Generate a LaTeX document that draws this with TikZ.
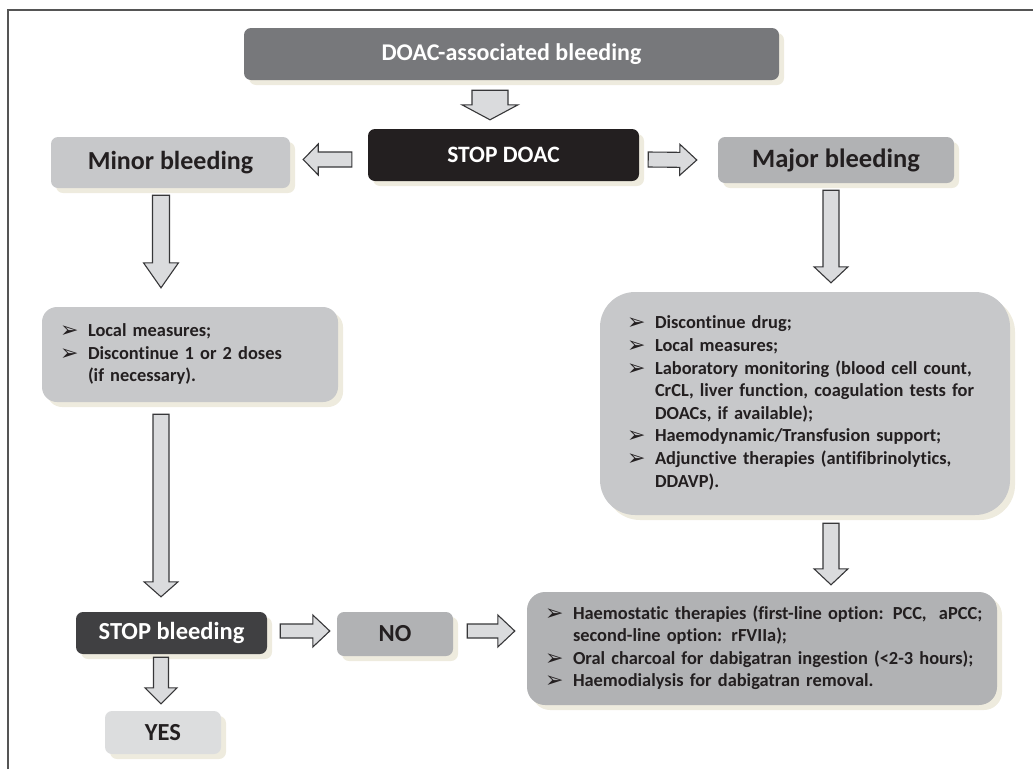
\documentclass[tikz,border=0pt]{standalone}
\usepackage{fontspec}
\setmainfont{Carlito}[Ligatures={NoCommon}]
\newfontfamily\dingfont{DejaVu Sans}
\usetikzlibrary{calc}
\usetikzlibrary{shadows}

\definecolor{titlegray}{RGB}{119,120,123}
\definecolor{stopblack}{RGB}{35,31,32}
\definecolor{stopdark}{RGB}{64,64,66}
\definecolor{lightbox}{RGB}{199,200,202}
\definecolor{midbox}{RGB}{177,178,180}
\definecolor{yesbox}{RGB}{220,221,222}
\definecolor{inktext}{RGB}{35,31,32}
\definecolor{cream}{RGB}{238,235,222}
\definecolor{arrowfill}{RGB}{218,219,221}
\definecolor{arrowline}{RGB}{55,55,57}
\definecolor{framegray}{RGB}{85,85,85}

\newcommand\bul{\makebox[28pt][l]{\dingfont\fontsize{22}{22}\selectfont\raisebox{-1pt}{➢}}}

\tikzset{
  stage/.style={rounded corners=7pt, inner sep=0pt, font=\bfseries\fontsize{24.5}{28}\selectfont,
    drop shadow={fill=cream, opacity=1, shadow xshift=5pt, shadow yshift=-5pt}},
  listbox/.style={stage, align=left, text=inktext, font=\bfseries\fontsize{18.4}{22.6}\selectfont},
  fat/.style args={#1/#2/#3}{draw=arrowline, fill=arrowfill, line width=1.1pt, line join=miter,
    to path={
      ($(\tikztostart)!#1!90:(\tikztotarget)$)
      -- ($($(\tikztotarget)!#3!(\tikztostart)$)!#1!-90:(\tikztostart)$)
      -- ($($(\tikztotarget)!#3!(\tikztostart)$)!#2!-90:(\tikztostart)$)
      -- (\tikztotarget)
      -- ($($(\tikztotarget)!#3!(\tikztostart)$)!#2!90:(\tikztostart)$)
      -- ($($(\tikztotarget)!#3!(\tikztostart)$)!#1!90:(\tikztostart)$)
      -- ($(\tikztostart)!#1!-90:(\tikztotarget)$) -- cycle}},
}

\begin{document}
\begin{tikzpicture}[x=1pt,y=-1pt]
\useasboundingbox (0,0) rectangle (1033,769);
% frame
\draw[framegray, line width=1.6pt] (8,769) -- (8,10) -- (1033,10);

% top row
\node[stage, fill=titlegray, text=white, minimum width=535pt, minimum height=52pt, font=\bfseries\fontsize{24}{28}\selectfont] (title) at (511.5,54) {DOAC-associated bleeding};
\node[stage, fill=stopblack, text=white, minimum width=271pt, minimum height=52pt, font=\bfseries\fontsize{23.5}{28}\selectfont] (stopdoac) at (503.5,155) {STOP DOAC};
\node[stage, fill=lightbox, text=inktext, minimum width=239pt, minimum height=51pt, font=\bfseries\fontsize{26}{30}\selectfont] (minor) at (170.5,162.5) {Minor bleeding};
\node[stage, fill=midbox, text=inktext, minimum width=236pt, minimum height=46pt, font=\bfseries\fontsize{26.5}{30}\selectfont] (major) at (836,160) {Major bleeding};

% lists
\node[listbox, fill=lightbox, rounded corners=15pt, minimum width=296pt, minimum height=95pt,
  text width=260pt, inner xsep=18pt] (minorbox) at (190,354.5) {%
  \begin{tabular}{@{}l@{}l@{}}
  \bul & Local measures;\\
  \bul & Discontinue 1 or 2 doses\\
       & (if necessary).
  \end{tabular}};
\node[listbox, fill=lightbox, rounded corners=35pt, minimum width=410pt, minimum height=223pt,
  text width=356pt, inner xsep=27pt] (majorbox) at (805,403.5) {%
  \begin{tabular}{@{}l@{}l@{}}
  \bul & Discontinue drug;\\
  \bul & Local measures;\\
  \bul & Laboratory monitoring (blood cell count,\\
       & CrCL, liver function, coagulation tests for\\
       & DOACs, if available);\\
  \bul & Haemodynamic/Transfusion support;\\
  \bul & Adjunctive therapies (antifibrinolytics,\\
       & DDAVP).
  \end{tabular}};
\node[listbox, fill=midbox, rounded corners=18pt, minimum width=470pt, minimum height=113pt,
  text width=434pt, inner xsep=18pt] (haemo) at (762,648.5) {%
  \begin{tabular}{@{}l@{}l@{}}
  \bul & Haemostatic therapies (first-line option: PCC,~ aPCC;\\
       & second-line option: rFVIIa);\\
  \bul & Oral charcoal for dabigatran ingestion (<2-3 hours);\\
  \bul & Haemodialysis for dabigatran removal.
  \end{tabular}};

% bottom row
\node[stage, fill=stopdark, text=white, minimum width=191pt, minimum height=42pt] (stopbleed) at (171.5,633) {STOP bleeding};
\node[stage, fill=midbox, text=inktext, minimum width=116pt, minimum height=44pt] (no) at (395,634) {NO};
\node[stage, fill=yesbox, text=inktext, minimum width=116pt, minimum height=43pt] (yes) at (163,732.5) {YES};

% block arrows
\draw[fat=18pt/28pt/15pt] ([xshift=-21.5pt,yshift=-10pt]title.south) to ([xshift=-13.5pt,yshift=9pt]stopdoac.north);
\draw[fat=7.5pt/15.5pt/15pt] ([xshift=-16pt,yshift=-4.5pt]stopdoac.west) to ([xshift=13pt,yshift=3pt]minor.east);
\draw[fat=7.5pt/15.5pt/17pt] ([xshift=9pt,yshift=-4.5pt]stopdoac.east) to ([xshift=-21pt]major.west);
\draw[fat=8.5pt/17.5pt/25pt] ([xshift=-9.5pt,yshift=-7pt]minor.south) to ([xshift=-29pt,yshift=19pt]minorbox.north);
\draw[fat=8pt/17pt/16pt] ([xshift=-5pt,yshift=-7pt]major.south) to ([xshift=26pt,yshift=9pt]majorbox.north);
\draw[fat=8pt/17pt/15pt] ([xshift=-29pt,yshift=-12pt]minorbox.south) to ([xshift=-10.5pt,yshift=15pt]stopbleed.north);
\draw[fat=8pt/17pt/16pt] ([xshift=26pt,yshift=-8pt]majorbox.south) to ([xshift=69pt,yshift=7pt]haemo.north);
\draw[fat=7.5pt/16pt/16pt] ([xshift=-10.5pt,yshift=-3pt]stopbleed.south) to ([xshift=-2pt,yshift=7pt]yes.north);
\draw[fat=7pt/16pt/17pt] ([xshift=13pt,yshift=2pt]stopbleed.east) to ([xshift=-7pt,yshift=3pt]no.west);
\draw[fat=7pt/16pt/17pt] ([xshift=14pt,yshift=3pt]no.east) to ([xshift=-12pt,yshift=17.5pt]haemo.west);
\end{tikzpicture}
\end{document}
